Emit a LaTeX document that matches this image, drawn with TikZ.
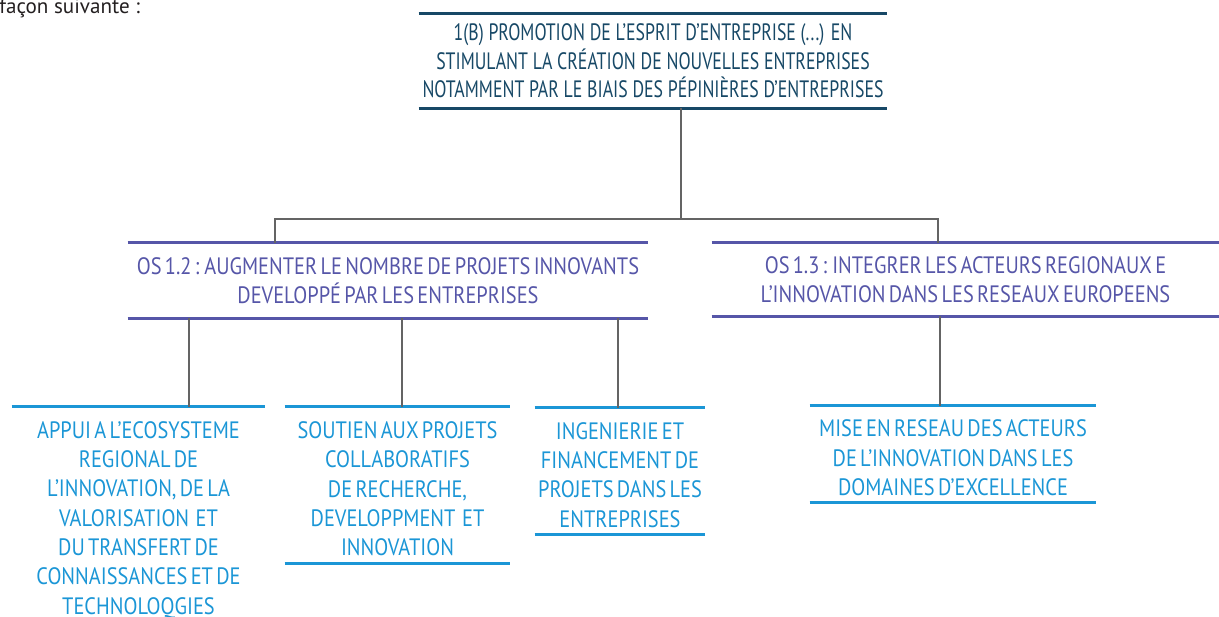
\documentclass[tikz,border=0pt]{standalone}
\usepackage{fontspec}
\setmainfont{PT Sans}
\newfontfamily\goalfont[FakeStretch=0.75]{PT Sans}
\newfontfamily\narrowfont[FakeStretch=0.86, WordSpace=0.6]{PT Sans}
\usetikzlibrary{calc}

\definecolor{introcol}{RGB}{35,31,32}
\definecolor{goalcol}{RGB}{23,72,102}
\definecolor{oscol}{RGB}{86,86,168}
\definecolor{actcol}{RGB}{27,150,214}
\definecolor{linkcol}{RGB}{100,100,100}

\newcommand{\topgap}{\rule{0pt}{14pt}}

\begin{document}
\begin{tikzpicture}[x=0.02cm, y=-0.02cm,
	box/.style={inner sep=0pt, align=center, font=\narrowfont\fontsize{13.5}{16.7}\selectfont},
	actbox/.style={box, text=actcol},
	rule/.style={line width=1.7pt},
	link/.style={draw=linkcol, line width=1.1pt}]
			
			\useasboundingbox (0,0) rectangle (1219,617);
			
			\node[anchor=base west, inner sep=0pt, text=introcol, font=\fontsize{12}{14}\selectfont] (intro) at (-1,14) {façon suivante :};
			
			% objectif thematique
			\node[box, text=goalcol, font=\goalfont\fontsize{13.5}{16.3}\selectfont, minimum width=9.36cm, minimum height=1.88cm] (goal) at (653,61) {1(B) PROMOTION DE L’ESPRIT D’ENTREPRISE (...) EN\\ STIMULANT LA CRÉATION DE NOUVELLES ENTREPRISES\\ NOTAMMENT PAR LE BIAIS DES PÉPINIÈRES D’ENTREPRISES};
			\draw[rule, goalcol] (goal.north west) -- (goal.north east) (goal.south west) -- (goal.south east);
			
			% objectifs specifiques
			\node[box, text=oscol, minimum width=10.4cm, minimum height=1.5cm] (os12) at (388,280.5) {OS 1.2 : AUGMENTER LE NOMBRE DE PROJETS INNOVANTS\\ DEVELOPPÉ PAR LES ENTREPRISES};
			\node[box, text=oscol, minimum width=10.14cm, minimum height=1.46cm] (os13) at (965.5,279.5) {OS 1.3 : INTEGRER LES ACTEURS REGIONAUX E\\ L’INNOVATION DANS LES RESEAUX EUROPEENS};
			\draw[rule, oscol] (os12.north west) -- (os12.north east) (os12.south west) -- (os12.south east);
			\draw[rule, oscol] (os13.north west) -- (os13.north east) (os13.south west) -- (os13.south east);
			
			% actions
			\node[actbox, minimum width=5.06cm, minimum height=4.36cm] (act1) at (138.5,516) {\topgap APPUI A L’ECOSYSTEME\\ REGIONAL DE\\ L’INNOVATION, DE LA\\ VALORISATION~ ET\\ DU TRANSFERT DE\\ CONNAISSANCES ET DE\\ TECHNOLOQGIES};
			\node[actbox, minimum width=4.5cm, minimum height=3.12cm] (act2) at (397.5,485) {\topgap SOUTIEN AUX PROJETS\\ COLLABORATIFS\\ DE RECHERCHE,\\ DEVELOPPMENT~ ET\\ INNOVATION};
			\node[actbox, minimum width=3.4cm, minimum height=2.52cm] (act3) at (620,471) {\topgap INGENIERIE ET\\ FINANCEMENT DE\\ PROJETS DANS LES\\ ENTREPRISES};
			\node[actbox, minimum width=5.72cm, minimum height=1.92cm] (act4) at (953,454) {\topgap MISE EN RESEAU DES ACTEURS\\ DE L’INNOVATION DANS LES\\ DOMAINES D’EXCELLENCE};
			\draw[rule, actcol] (act1.north west) -- (act1.north east);
			\draw[rule, actcol] (act2.north west) -- (act2.north east) (act2.south west) -- (act2.south east);
			\draw[rule, actcol] (act3.north west) -- (act3.north east) (act3.south west) -- (act3.south east);
			\draw[rule, actcol] (act4.north west) -- (act4.north east) (act4.south west) -- (act4.south east);
			
			% liaisons
			\coordinate (split) at (681,219);
			\coordinate (splitL) at (275,219);
			\coordinate (splitR) at (938,219);
			\draw[link] (goal.south -| split) -- (split);
			\draw[link] (splitL |- os12.north) -- (splitL) -- (splitR) -- (splitR |- os13.north);
			\draw[link] (os12.south -| 189,0) -- (act1.north -| 189,0);
			\draw[link] (os12.south -| 402,0) -- (act2.north -| 402,0);
			\draw[link] (os12.south -| 618,0) -- (act3.north -| 618,0);
			\draw[link] (os13.south -| 940,0) -- (act4.north -| 940,0);
			
	\end{tikzpicture}
\end{document}
